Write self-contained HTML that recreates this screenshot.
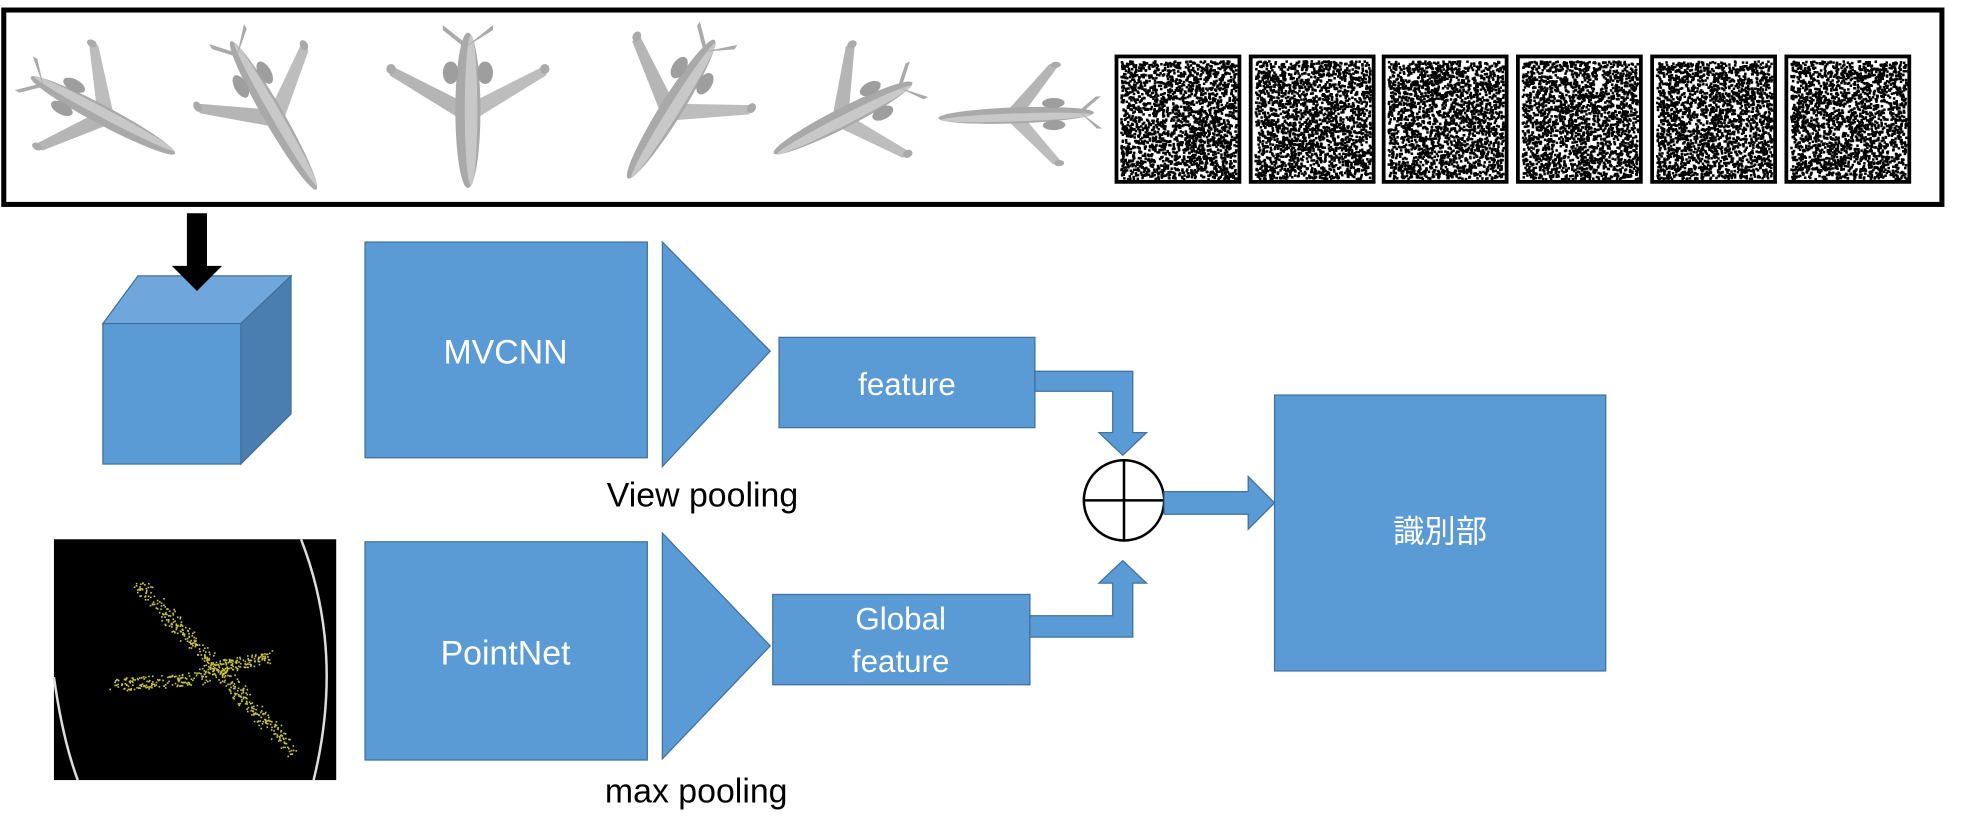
<!DOCTYPE html>
<html><head><meta charset="utf-8"><style>
html,body{margin:0;padding:0;background:#fff;overflow:hidden}
svg{display:block}
text{font-family:"Liberation Sans","Noto Sans CJK JP",sans-serif}
</style></head><body>
<svg id="s" width="1967" height="834" viewBox="0 0 1568 665" preserveAspectRatio="none" xmlns="http://www.w3.org/2000/svg">
<defs>
<g id="plane">
 <polygon points="-8,-5 -35,-48 -28,-50 6,-6" fill="#bdbdbd"/>
 <polygon points="-8,5 -35,48 -28,50 6,6" fill="#b5b5b5"/>
 <ellipse cx="-33" cy="-49" rx="4" ry="3" fill="#aaa"/>
 <ellipse cx="-33" cy="49" rx="4" ry="3" fill="#aaa"/>
 <ellipse cx="0" cy="0" rx="62" ry="8" fill="#a9a9a9"/>
 <ellipse cx="0" cy="-2" rx="60" ry="4" fill="#c8c8c8"/>
 <ellipse cx="-30" cy="-11" rx="9" ry="5" fill="#9e9e9e"/>
 <ellipse cx="-30" cy="11" rx="9" ry="5" fill="#9e9e9e"/>
 <polygon points="-55,-3 -68,-16 -64,-16 -50,2" fill="#aaa"/>
 <polygon points="-55,3 -68,16 -64,16 -50,2" fill="#aaa"/>
</g>
</defs>
<rect x="3" y="8" width="1545" height="155" fill="#fff" stroke="#000" stroke-width="4"/>
<use href="#plane" transform="translate(82,92) rotate(28) scale(1.05,0.95)"/>
<use href="#plane" transform="translate(218,92) rotate(60) scale(1.1,1)"/>
<use href="#plane" transform="translate(373,88) rotate(90) scale(1,1.25)"/>
<use href="#plane" transform="translate(535,87) rotate(122) scale(1.05,1.1)"/>
<use href="#plane" transform="translate(672,94) rotate(153) scale(1,1)"/>
<use href="#plane" transform="translate(810,92) rotate(178) scale(1,0.8)"/>
<g id="noise"></g>
<!-- cube -->
<polygon points="82,258 110,220 232,220 192,258" fill="#6fa6dc" stroke="#41719c" stroke-width="1"/>
<polygon points="192,258 232,220 232,330 192,370" fill="#4a7eb0" stroke="#41719c" stroke-width="1"/>
<rect x="82" y="258" width="110" height="112" fill="#5b9bd5" stroke="#41719c" stroke-width="1"/>
<polygon points="149,170 165,170 165,212 177,212 157,232 137,212 149,212" fill="#000"/>
<!-- MVCNN -->
<rect x="291" y="193" width="225" height="172" fill="#5b9bd5" stroke="#41719c"/>
<text x="403" y="290" fill="#fff" font-size="27" text-anchor="middle">MVCNN</text>
<polygon points="528,193 614,280 528,372" fill="#5b9bd5" stroke="#41719c"/>
<rect x="621" y="269" width="204" height="72" fill="#5b9bd5" stroke="#41719c"/>
<text x="723" y="315" fill="#fff" font-size="25" text-anchor="middle">feature</text>
<text x="560" y="404" fill="#000" font-size="27" text-anchor="middle">View pooling</text>
<polygon points="825,296 903,296 903,345 914,345 895,363 876,345 887,345 887,312 825,312" fill="#5b9bd5" stroke="#41719c"/>
<!-- circle -->
<circle cx="896" cy="399" r="32" fill="#fff" stroke="#000" stroke-width="2"/>
<line x1="864" y1="399" x2="928" y2="399" stroke="#000" stroke-width="2"/>
<line x1="896" y1="367" x2="896" y2="431" stroke="#000" stroke-width="2"/>
<polygon points="928,392 995,392 995,380 1016,401 995,422 995,410 928,410" fill="#5b9bd5" stroke="#41719c"/>
<rect x="1016" y="315" width="264" height="220" fill="#5b9bd5" stroke="#41719c"/>
<text x="1148" y="432" fill="#fff" font-size="25" text-anchor="middle">識別部</text>
<!-- point cloud -->
<rect x="43" y="430" width="225" height="192" fill="#000"/>
<path d="M240,430 Q275,520 250,622" stroke="#ddd" stroke-width="2" fill="none"/>
<path d="M43,540 Q50,590 62,622" stroke="#ddd" stroke-width="2" fill="none"/>
<g id="pc"></g>
<!-- PointNet -->
<rect x="291" y="432" width="225" height="174" fill="#5b9bd5" stroke="#41719c"/>
<text x="403" y="530" fill="#fff" font-size="27" text-anchor="middle">PointNet</text>
<polygon points="528,425 614,515 528,605" fill="#5b9bd5" stroke="#41719c"/>
<rect x="616" y="474" width="205" height="72" fill="#5b9bd5" stroke="#41719c"/>
<text x="718" y="502" fill="#fff" font-size="25" text-anchor="middle">Global</text>
<text x="718" y="536" fill="#fff" font-size="25" text-anchor="middle">feature</text>
<text x="555" y="640" fill="#000" font-size="27" text-anchor="middle">max pooling</text>
<polygon points="821,491 887,491 887,465 876,465 895,447 914,465 903,465 903,508 821,508" fill="#5b9bd5" stroke="#41719c"/>
</svg>
<script>
var seed=7;function r(){seed=(seed*16807)%2147483647;return seed/2147483647;}
var g=document.getElementById("noise");
var xs=[890,997,1103,1210,1317,1424],h="";
xs.forEach(function(x){
 h+='<rect x="'+x+'" y="45" width="98" height="100" fill="#fff" stroke="#000" stroke-width="3"/>';
 for(var i=0;i<2200;i++){var px=x+3+r()*92,py=48+r()*94;h+='<rect x="'+px.toFixed(1)+'" y="'+py.toFixed(1)+'" width="2" height="2" fill="#000"/>';}
});
g.innerHTML=h;
var p=document.getElementById("pc"),q="";
for(var i=0;i<700;i++){var t=r();var x,y;
 var k=r();
 if(k<0.55){x=110+t*125;y=465+t*135;}
 else if(k<0.78){x=92+t*75;y=546-t*6;}
 else {x=160+t*55;y=535-t*12;}
 x+=(r()-.5)*12;y+=(r()-.5)*10;
 q+='<rect x="'+x.toFixed(1)+'" y="'+y.toFixed(1)+'" width="1.3" height="1.3" fill="#c9c63a"/>';}
p.innerHTML=q;
</script>
</body></html>
